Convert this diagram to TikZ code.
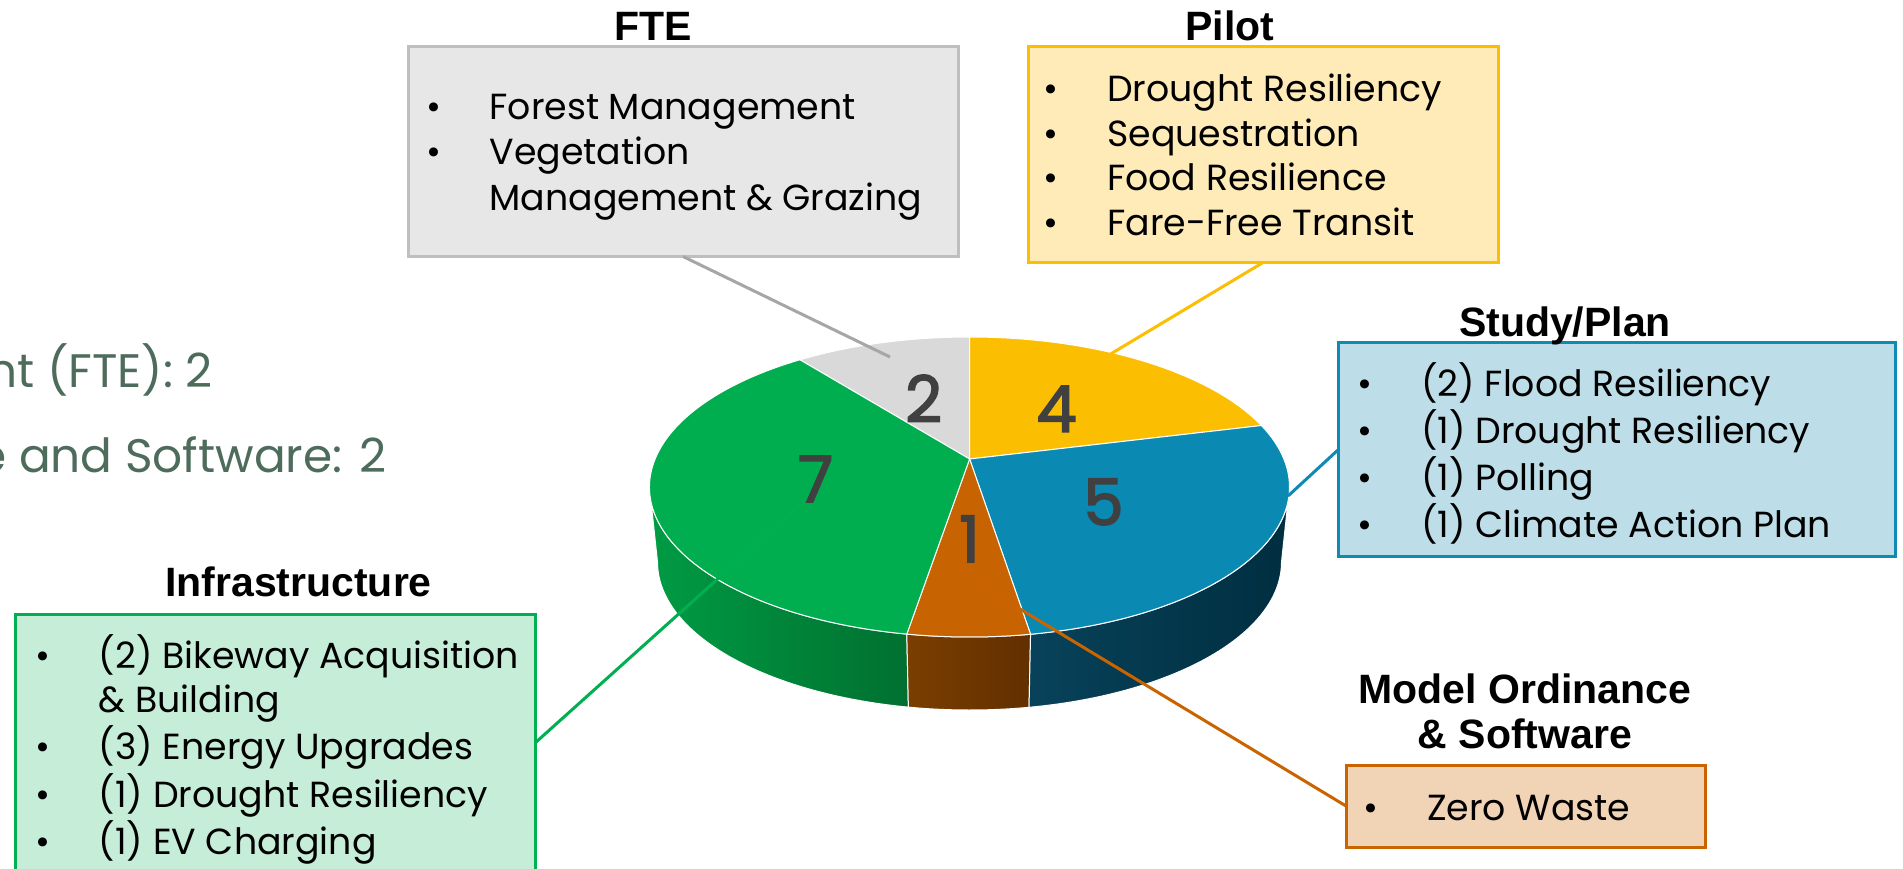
\documentclass[tikz,border=0pt]{standalone}
\usepackage{fontspec}
\setmainfont{Poppins}
\newfontfamily\titlefont{Liberation Sans}
\newfontfamily\digitfont[FakeBold=2.5]{Poppins}
\usetikzlibrary{calc}
\definecolor{gtop}{RGB}{0,173,79}
\definecolor{greytop}{RGB}{217,217,217}
\definecolor{ytop}{RGB}{251,190,0}
\definecolor{btop}{RGB}{10,138,178}
\definecolor{otop}{RGB}{199,99,0}
\definecolor{gsideL}{RGB}{0,155,68}
\definecolor{gsideR}{RGB}{0,112,48}
\definecolor{osideL}{RGB}{122,62,0}
\definecolor{osideR}{RGB}{98,47,0}
\definecolor{bsideL}{RGB}{8,66,90}
\definecolor{bsideR}{RGB}{0,46,64}
\definecolor{ftefill}{RGB}{231,231,231}
\definecolor{fteline}{RGB}{191,191,191}
\definecolor{fteleader}{RGB}{166,166,166}
\definecolor{pilotfill}{RGB}{255,235,184}
\definecolor{pilotline}{RGB}{252,190,0}
\definecolor{studyfill}{RGB}{189,222,232}
\definecolor{studyline}{RGB}{14,138,180}
\definecolor{modelfill}{RGB}{241,212,182}
\definecolor{modelline}{RGB}{201,100,0}
\definecolor{infrafill}{RGB}{198,237,216}
\definecolor{infraline}{RGB}{0,176,80}
\definecolor{digitgray}{RGB}{64,64,64}
\definecolor{lefttext}{RGB}{78,108,92}
\newcommand{\bul}{\llap{\makebox[112pt]{\textbullet}}}
\begin{document}
\begin{tikzpicture}[x=1pt,y=-1pt,
  box/.style={rectangle,inner sep=0pt,outer sep=0pt,line width=3pt},
  ttl/.style={anchor=base,inner sep=0pt,font=\titlefont\bfseries\fontsize{41}{44.4}\selectfont},
  body/.style={anchor=base west,inner sep=0pt,font=\fontsize{36.3}{44.5}\selectfont},
  digit/.style={anchor=base,inner sep=0pt,text=digitgray,font=\digitfont\fontsize{64}{64}\selectfont},
  leader/.style={line width=3pt},
  slice/.style={draw=white,line width=1pt},
  lefttxt/.style={anchor=base east,inner sep=0pt,text=lefttext,font=\fontsize{47}{50}\selectfont}
]
\useasboundingbox (0,0) rectangle (1903,869);
\fill[white] (0,0) rectangle (1903,869);

% left cut-off text
\node[lefttxt] (l1) at (213,387) {nt (FTE): 2};
\node[lefttxt] (l2) at (386.5,472) {e and Software: 2};

% pie
\begin{scope}[shift={(969.5,487)}]
  % sides
  \shadedraw[left color=gsideL,right color=gsideR,slice]
    (101.3:320 and 150) arc[start angle=101.3,end angle=180,x radius=320,y radius=150]
    -- ++(8,75) arc[start angle=180,end angle=101.3,x radius=312,y radius=148] -- cycle;
  \shadedraw[left color=osideL,right color=osideR,slice]
    (79:320 and 150) arc[start angle=79,end angle=101.3,x radius=320,y radius=150]
    -- ++(1.57,73.04) arc[start angle=101.3,end angle=79,x radius=312,y radius=148] -- cycle;
  \shadedraw[left color=bsideL,right color=bsideR,slice]
    (0:320 and 150) arc[start angle=0,end angle=79,x radius=320,y radius=150]
    -- ++(-1.53,73.04) arc[start angle=79,end angle=0,x radius=312,y radius=148] -- cycle;
  % top
  \filldraw[fill=greytop,slice] (0.1,-28) -- (238:320 and 150) arc[start angle=238,end angle=270,x radius=320,y radius=150] -- cycle;
  \filldraw[fill=ytop,slice] (0.1,-28) -- (270:320 and 150) arc[start angle=270,end angle=335.8,x radius=320,y radius=150] -- cycle;
  \filldraw[fill=btop,slice] (0.1,-28) -- (335.8:320 and 150) arc[start angle=335.8,end angle=439,x radius=320,y radius=150] -- cycle;
  \filldraw[fill=otop,slice] (0.1,-28) -- (79:320 and 150) arc[start angle=79,end angle=101.3,x radius=320,y radius=150] -- cycle;
  \filldraw[fill=gtop,slice] (0.1,-28) -- (101.3:320 and 150) arc[start angle=101.3,end angle=238,x radius=320,y radius=150] -- cycle;
\end{scope}

% boxes
\node[box,draw=fteline,fill=ftefill,minimum width=550pt,minimum height=210pt] (fte) at (683,151.5) {};
\node[box,draw=pilotline,fill=pilotfill,minimum width=470pt,minimum height=216pt] (pilot) at (1263,154.5) {};
\node[box,draw=studyline,fill=studyfill,minimum width=557pt,minimum height=214.5pt] (study) at (1617.25,449.25) {};
\node[box,draw=modelline,fill=modelfill,minimum width=359pt,minimum height=82pt] (model) at (1525.5,806) {};
\node[box,draw=infraline,fill=infrafill,minimum width=520pt,minimum height=258pt] (infra) at (275,743) {};

% connectors
\coordinate (fteEnd) at (890,357);
\coordinate (pilotEnd) at (1084,370);
\coordinate (studyEnd) at (1288,496);
\coordinate (modelEnd) at (967,577);
\coordinate (infraEnd) at (800,505);
\draw[leader,draw=fteleader] (fte.south) -- (fteEnd);
\draw[leader,draw=pilotline] (pilot.south) -- (pilotEnd);
\draw[leader,draw=studyline] (study.west) -- (studyEnd);
\draw[leader,draw=modelline] (model.west) -- (modelEnd);
\draw[leader,draw=infraline] (infra.east) -- (infraEnd);

% digits
\node[digit] (d2) at (923.6,422) {2};
\node[digit] (d4) at (1056.6,431.7) {4};
\node[digit] (d7) at (815.5,502) {7};
\node[digit] (d5) at (1103.5,525) {5};
\node[digit] (d1) at (969.5,562) {1};

% titles
\node[ttl] (tfte) at (653,40.7) {FTE};
\node[ttl] (tpilot) at (1230,40.7) {Pilot};
\node[ttl] (tstudy) at (1565,336) {Study/Plan};
\node[ttl] (tmodel) at (1525,703.6) {\begin{tabular}[t]{@{}c@{}}Model Ordinance\\ \& Software\end{tabular}};
\node[ttl] (tinfra) at (298.5,596.6) {Infrastructure};

% box texts
\node[body,font=\fontsize{36.3}{45.7}\selectfont] (xfte) at (489.3,119.3) {\begin{tabular}[t]{@{}l@{}}\bul Forest Management\\ \bul Vegetation\\ Management \& Grazing\end{tabular}};
\node[body] (xpilot) at (1107,101.7) {\begin{tabular}[t]{@{}l@{}}\bul Drought Resiliency\\ \bul Sequestration\\ \bul Food Resilience\\ \bul Fare-Free Transit\end{tabular}};
\node[body] (xstudy) at (1421,396) {\begin{tabular}[t]{@{}l@{}}\bul (2) Flood Resiliency\\ \bul (1) Drought Resiliency\\ \bul (1) Polling\\ \bul (1) Climate Action Plan\end{tabular}};
\node[body] (xmodel) at (1427,820) {\begin{tabular}[t]{@{}l@{}}\bul Zero Waste\end{tabular}};
\node[body] (xinfra) at (98.7,668) {\begin{tabular}[t]{@{}l@{}}\bul (2) Bikeway Acquisition\\ \& Building\\ \bul (3) Energy Upgrades\\ \bul (1) Drought Resiliency\\ \bul (1) EV Charging\end{tabular}};
\end{tikzpicture}
\end{document}
